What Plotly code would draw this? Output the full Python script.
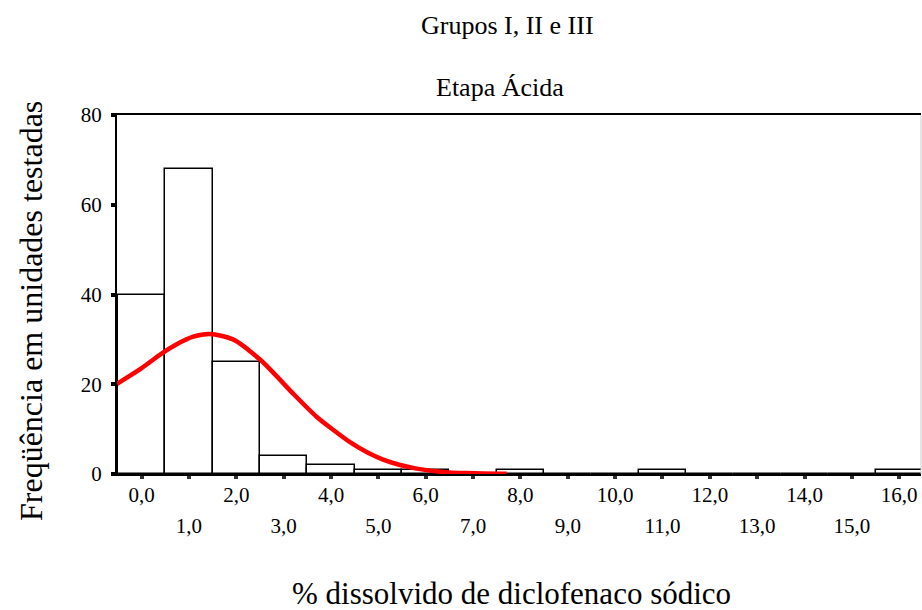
import plotly.graph_objects as go

# ---- data ----
bin_centers = list(range(0, 17))
counts = [40, 68, 25, 4, 2, 1, 1, 0, 1, 0, 0, 1, 0, 0, 0, 0, 1]

curve_x = [-0.52, 0.0, 0.39, 0.74, 1.09, 1.44, 1.93, 2.5, 2.85, 3.2, 3.7, 4.05,
           4.4, 4.75, 5.1, 5.46, 5.81, 6.16, 6.5, 6.86, 7.21, 7.71]
curve_y = [20.1, 23.6, 26.6, 28.9, 30.6, 31.2, 30.0, 25.5, 21.8, 17.9, 12.7, 9.8,
           7.1, 4.9, 3.2, 2.0, 1.2, 0.65, 0.35, 0.2, 0.1, 0.05]

even_ticks = [0, 2, 4, 6, 8, 10, 12, 14, 16]
even_labels = ["0,0", "2,0", "4,0", "6,0", "8,0", "10,0", "12,0", "14,0", "16,0"]
odd_ticks = [1, 3, 5, 7, 9, 11, 13, 15]
odd_labels = ["1,0", "3,0", "5,0", "7,0", "9,0", "11,0", "13,0", "15,0"]
y_ticks = [0, 20, 40, 60, 80]

title1 = "Grupos I, II e III"
title2 = "Etapa Ácida"
x_title = "% dissolvido de diclofenaco sódico"
y_title = "Freqüência em unidades testadas"

FONT = "Liberation Serif"

fig = go.Figure()
fig.add_trace(go.Bar(
    x=bin_centers, y=counts, width=1.0, xaxis="x", yaxis="y",
    marker=dict(color="white", line=dict(color="black", width=1.5)),
    showlegend=False, hoverinfo="skip",
))
# fitted curve drawn on the overlaying axis (same range) so it sits above the bars
fig.add_trace(go.Scatter(
    x=curve_x, y=curve_y, mode="lines", xaxis="x2", yaxis="y",
    line=dict(color="#ff0000", width=4.5, shape="spline", smoothing=0.8),
    showlegend=False, hoverinfo="skip",
))

main_ticktext = []
for v in bin_centers:
    main_ticktext.append(even_labels[even_ticks.index(v)] if v in even_ticks else "")

fig.update_layout(
    width=922, height=610,
    margin=dict(l=117, r=1, t=115, b=136),
    plot_bgcolor="white", paper_bgcolor="white",
    font=dict(family=FONT, color="black", size=21),
    bargap=0,
    xaxis=dict(
        range=[-0.52, 16.46], showgrid=False, zeroline=False,
        showline=True, linecolor="black", linewidth=2, mirror=True,
        tickmode="array", tickvals=bin_centers, ticktext=main_ticktext,
        ticks="outside", ticklen=3, tickwidth=4, tickcolor="#333333",
        tickfont=dict(family=FONT, size=21, color="black"),
        ticklabelstandoff=-2,
    ),
    xaxis2=dict(
        range=[-0.52, 16.46], overlaying="x", anchor="y", side="bottom",
        showgrid=False, zeroline=False, showline=False,
        tickmode="array", tickvals=odd_ticks, ticktext=odd_labels,
        ticks="", tickfont=dict(family=FONT, size=21, color="black"),
        ticklabelstandoff=37,
    ),
    yaxis=dict(
        range=[0, 80], showgrid=False, zeroline=False,
        showline=True, linecolor="black", linewidth=2,
        tickmode="array", tickvals=y_ticks,
        ticks="outside", ticklen=4, tickwidth=4, tickcolor="black",
        tickfont=dict(family=FONT, size=21, color="black"),
        ticklabelstandoff=5,
    ),
    shapes=[dict(type="line", xref="paper", yref="paper", x0=1, x1=1, y0=0, y1=1,
                 line=dict(color="#cccccc", width=1))],
    annotations=[
        dict(text=title1, xref="paper", yref="paper", x=(507.5 - 117) / 804,
             y=(474 - 25) / 359, xanchor="center", yanchor="middle",
             showarrow=False, font=dict(family=FONT, size=26, color="black")),
        dict(text=title2, xref="paper", yref="paper", x=(499.5 - 117) / 804,
             y=(474 - 87) / 359, xanchor="center", yanchor="middle",
             showarrow=False, font=dict(family=FONT, size=26, color="black")),
        dict(text=x_title, xref="paper", yref="paper", x=(511 - 117) / 804,
             y=(474 - 593) / 359, xanchor="center", yanchor="middle",
             showarrow=False, font=dict(family=FONT, size=31, color="black")),
        dict(text=y_title, xref="paper", yref="paper", x=(31 - 117) / 804,
             y=(474 - 311) / 359, xanchor="center", yanchor="middle", textangle=-90,
             showarrow=False, font=dict(family=FONT, size=32, color="black")),
    ],
)

fig.write_html("out.html")
